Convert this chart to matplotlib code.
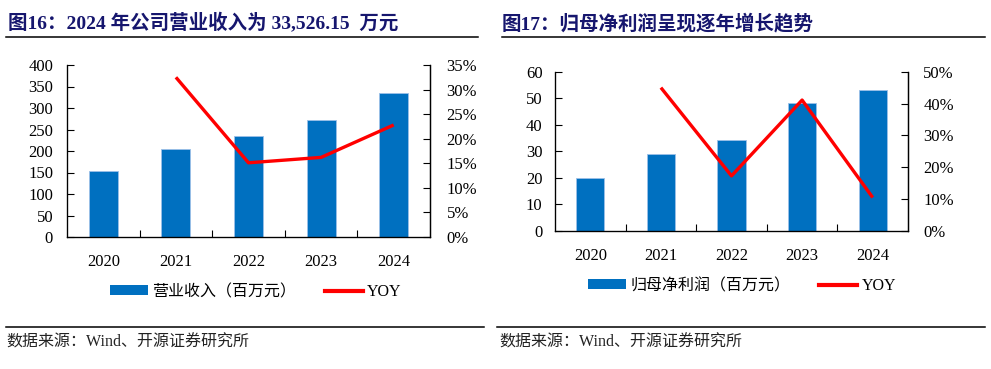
import matplotlib
matplotlib.use("Agg")
import matplotlib.pyplot as plt
from matplotlib.patches import Patch
from matplotlib.lines import Line2D
from matplotlib.ticker import FuncFormatter, FixedLocator

plt.rcParams['font.family'] = ['Liberation Serif', 'Noto Sans CJK SC']

years = ['2020', '2021', '2022', '2023', '2024']
revenue = [153, 204, 235, 272, 335.26]
revenue_yoy = [None, 32.5, 15.1, 16.2, 22.8]
profit = [20.0, 29.1, 34.2, 48.2, 53.1]
profit_yoy = [None, 45.0, 17.3, 41.1, 10.5]

title_left = '图16：2024 年公司营业收入为 33,526.15  万元'
title_right = '图17：归母净利润呈现逐年增长趋势'
legend_left = '营业收入（百万元）'
legend_right = '归母净利润（百万元）'
source = '数据来源：Wind、开源证券研究所'

BAR = '#0070C0'
RED = '#FF0000'
NAVY = '#16166E'

W, H = 991, 369
fig = plt.figure(figsize=(W / 100, H / 100), dpi=100)


def box(l, t, r, b):
    return [l / W, 1 - b / H, (r - l) / W, (b - t) / H]


def panel(rect, vals, yoy, ymax, ystep, y2max, y2step, ypad, y2pad, xpad):
    ax = fig.add_axes(rect)
    x = list(range(len(years)))
    ax.bar(x, vals, width=0.4, color=BAR, edgecolor='#9CC0E8', linewidth=0.6, zorder=2)
    ax.set_xlim(-0.5, len(years) - 0.5)
    ax.set_ylim(0, ymax)
    ax.set_yticks([v for v in range(0, ymax + 1, ystep)])
    ax.set_xticks(x)
    ax.set_xticklabels(years)
    ax.xaxis.set_minor_locator(FixedLocator([i + 0.5 for i in range(len(years) - 1)]))
    ax.tick_params(axis='x', which='major', length=0, pad=xpad, labelsize=12)
    ax.tick_params(axis='x', which='minor', length=5, direction='in', width=0.8)
    ax.tick_params(axis='y', direction='in', length=5, width=0.8, pad=ypad, labelsize=12)
    ax.spines['top'].set_visible(False)
    for s in ('left', 'bottom', 'right'):
        ax.spines[s].set_linewidth(0.9)
    ax2 = ax.twinx()
    xs = [i for i, v in enumerate(yoy) if v is not None]
    ys = [v for v in yoy if v is not None]
    ax2.plot(xs, ys, color=RED, lw=2.4, solid_capstyle='butt', zorder=3)
    ax2.set_ylim(0, y2max)
    ax2.set_yticks([v for v in range(0, y2max + 1, y2step)])
    ax2.yaxis.set_major_formatter(FuncFormatter(lambda v, p: f'{int(round(v))}%'))
    ax2.tick_params(axis='y', direction='in', length=5, width=0.8, pad=y2pad, labelsize=12)
    ax2.spines['top'].set_visible(False)
    ax2.spines['right'].set_linewidth(0.9)
    return ax


axL = panel(box(67, 65, 430, 237), revenue, revenue_yoy, 400, 50, 35, 5, 10, 12, 12)
axR = panel(box(555, 71.7, 908, 231), profit, profit_yoy, 60, 10, 50, 10, 9, 11, 12)

# titles
fig.text(8 / W, 1 - 23 / H, title_left, fontsize=14, fontweight='bold', color=NAVY,
         va='center', ha='left')
fig.text(502 / W, 1 - 23 / H, title_right, fontsize=14, fontweight='bold', color=NAVY,
         va='center', ha='left')

# rules
for (x0, x1, y) in [(6, 478, 36.5), (502, 985, 36.5), (6, 484, 326.5), (497, 985, 326.5)]:
    fig.add_artist(Line2D([x0 / W, x1 / W], [1 - y / H, 1 - y / H], color='black', lw=1.1))

# sources
fig.text(6 / W, 1 - 343 / H, source, fontsize=11.5, color='#222222', va='center', ha='left')
fig.text(499 / W, 1 - 343 / H, source, fontsize=11.5, color='#222222', va='center', ha='left')

# legends
def legend(label, xc, yc):
    handles = [Patch(facecolor=BAR, edgecolor='none'), Line2D([], [], color=RED, lw=3)]
    fig.legend(handles, [label, 'YOY'], loc='center', bbox_to_anchor=(xc / W, 1 - yc / H),
               ncol=2, frameon=False, fontsize=11.5, handlelength=2.4, handleheight=0.6,
               handletextpad=0.25, columnspacing=1.8, borderpad=0, borderaxespad=0)

legend(legend_left, 255.5, 292)
legend(legend_right, 742, 286)

fig.savefig('out.png', dpi=100)
